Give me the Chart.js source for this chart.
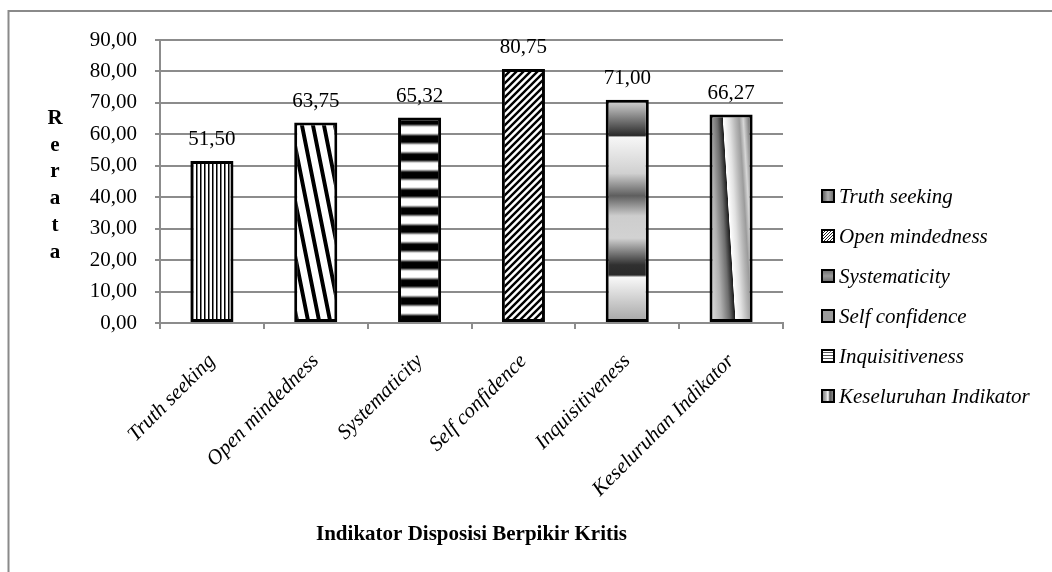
<!DOCTYPE html>
<html><head><meta charset="utf-8">
<script src="https://cdn.jsdelivr.net/npm/chart.js@4.4.1/dist/chart.umd.min.js"></script>
<style>html,body{margin:0;padding:0;background:#fff;} canvas{display:block;}</style>
</head><body>
<canvas id="c" width="1052" height="572"></canvas>
<script>
const categories = ['Truth seeking','Open mindedness','Systematicity','Self confidence','Inquisitiveness','Keseluruhan Indikator'];
const rerata = [51.50, 63.75, 65.32, 80.75, 71.00, 66.27];
const yTicks = [0,10,20,30,40,50,60,70,80,90];
const legendLabels = ['Truth seeking','Open mindedness','Systematicity','Self confidence','Inquisitiveness','Keseluruhan Indikator'];
const xTitle = 'Indikator Disposisi Berpikir Kritis';
const yTitle = 'Rerata';

const SERIF = '"Liberation Serif", "Times New Roman", serif';
const GRID = '#8c8c8c';
const FS = 21;
const fmt = v => Number(v).toFixed(2).replace('.', ',');

const cv = document.getElementById('c');
const ctx0 = cv.getContext('2d');
function mk(w,h,draw){const c=document.createElement('canvas');c.width=w;c.height=h;const g=c.getContext('2d');draw(g,w,h);return c;}

// vertical thin stripes
const pVert = ctx0.createPattern(mk(4,4,g=>{g.fillStyle='#fff';g.fillRect(0,0,4,4);g.fillStyle='#000';g.fillRect(0,0,1,4);g.fillStyle='#7a7a7a';g.fillRect(1,0,1,4);}),'repeat');
// steep "\" stripes
const pSteep = ctx0.createPattern(mk(11,55,g=>{g.fillStyle='#fff';g.fillRect(0,0,11,55);g.fillStyle='#000';for(let y=0;y<55;y++){const s=y*11/55;g.fillRect(s,y,4,1);g.fillRect(s-11,y,4,1);}}),'repeat');
// horizontal bands
const bandRows = ['#000','#000','#000','#000','#000','#333','#888','#ddd','#fff','#fff','#fff','#fff','#fff','#fff','#ddd','#888','#333','#000'];
const bandTile = mk(1,bandRows.length,g=>{bandRows.forEach((c,i)=>{g.fillStyle=c;g.fillRect(0,i,1,1);});});
// dense "/" hatch
const pHatch = ctx0.createPattern(mk(7,7,g=>{g.fillStyle='#fff';g.fillRect(0,0,7,7);g.strokeStyle='#000';g.lineWidth=2.4;g.beginPath();g.moveTo(0,7);g.lineTo(7,0);g.moveTo(-1,1);g.lineTo(1,-1);g.moveTo(6,8);g.lineTo(8,6);g.stroke();}),'repeat');
const pHatchSmall = ctx0.createPattern(mk(3,3,g=>{g.fillStyle='#fff';g.fillRect(0,0,3,3);g.fillStyle='#222';g.fillRect(0,2,1,1);g.fillRect(1,1,1,1);g.fillRect(2,0,1,1);}),'repeat');

function barGeom(chart, i){
  const xs = chart.scales.x, ys = chart.scales.y;
  const cx = xs.getPixelForValue(i);
  const w = (xs.width / categories.length) * 0.415;
  return {left: cx - w/2, w, top: ys.getPixelForValue(rerata[i]), base: ys.getPixelForValue(0)};
}

function fillFor(ctx){
  const chart = ctx.chart, i = ctx.dataIndex;
  if (!chart.chartArea || !chart.scales.x) return '#ccc';
  const g = barGeom(chart, i);
  const c = chart.ctx;
  if (i === 0) return pVert;
  if (i === 1) return pSteep;
  if (i === 2) {
    const p = c.createPattern(bandTile,'repeat');
    p.setTransform(new DOMMatrix().translate(0, g.top + 1.5));
    return p;
  }
  if (i === 3) return pHatch;
  if (i === 4) {
    const gr = c.createLinearGradient(0, g.top, 0, g.base);
    const st = [[0,'#dadada'],[0.16,'#2a2a2a'],[0.168,'#f6f6f6'],[0.33,'#d0d0d0'],[0.43,'#5e5e5e'],[0.52,'#cdcdcd'],[0.62,'#d2d2d2'],[0.74,'#303030'],[0.785,'#2a2a2a'],[0.795,'#f8f8f8'],[1,'#a4a4a4']];
    st.forEach(s=>gr.addColorStop(s[0],s[1]));
    return gr;
  }
  // slanted gradient
  const h = g.base - g.top;
  const T = {x: g.left + 0.31*g.w, y: g.top};
  const vx = 0.30*g.w, vy = h, L = Math.hypot(vx, vy);
  const nx = vy/L, ny = -vx/L;
  const a = -26, b = 29;
  const gr = c.createLinearGradient(T.x + a*nx, T.y + a*ny, T.x + b*nx, T.y + b*ny);
  const U = [[-26,'#e6e6e6'],[-14,'#b0b0b0'],[-6,'#6e6e6e'],[-0.6,'#1e1e1e'],[0,'#ffffff'],[6,'#e2e2e2'],[12,'#b6b6b6'],[16,'#9c9c9c'],[20,'#d6d6d6'],[25,'#888888'],[29,'#3a3a3a']];
  U.forEach(s=>gr.addColorStop((s[0]-a)/(b-a), s[1]));
  return gr;
}

function legendFill(c, i, x, y, w, h){
  if (i === 0){const g=c.createLinearGradient(x,0,x+w,0);g.addColorStop(0,'#555');g.addColorStop(0.5,'#b0b0b0');g.addColorStop(1,'#666');return g;}
  if (i === 1) return pHatchSmall;
  if (i === 2){const g=c.createLinearGradient(0,y,0,y+h);g.addColorStop(0,'#6a6a6a');g.addColorStop(0.5,'#9a9a9a');g.addColorStop(1,'#6a6a6a');return g;}
  if (i === 3) return '#9c9c9c';
  if (i === 4){const p=c.createPattern(mk(1,3,g=>{g.fillStyle='#fff';g.fillRect(0,0,1,2);g.fillStyle='#555';g.fillRect(0,2,1,1);}),'repeat');p.setTransform(new DOMMatrix().translate(0,y));return p;}
  const g=c.createLinearGradient(x,0,x+w,0);g.addColorStop(0,'#777');g.addColorStop(0.35,'#bbb');g.addColorStop(0.5,'#fff');g.addColorStop(0.65,'#555');g.addColorStop(1,'#999');return g;
}

const decor = {
  id:'decor',
  beforeDraw(chart){
    const c = chart.ctx;
    c.save();
    c.fillStyle='#fff'; c.fillRect(0,0,chart.width,chart.height);
    c.strokeStyle='#8a8a8a'; c.lineWidth=2;
    c.strokeRect(8.5, 11, chart.width + 20, chart.height + 20);
    c.restore();
  },
  afterDatasetsDraw(chart){
    const c = chart.ctx;
    const meta = chart.getDatasetMeta(0);
    c.save();
    c.fillStyle='#000'; c.font = FS+'px '+SERIF; c.textAlign='center'; c.textBaseline='alphabetic';
    meta.data.forEach((el,i)=>{ c.fillText(fmt(rerata[i]), el.x, el.y - 16); });
    c.restore();
  },
  afterDraw(chart){
    const c = chart.ctx, ca = chart.chartArea;
    c.save();
    // y title, stacked letters
    c.fillStyle='#000'; c.font = 'bold '+FS+'px '+SERIF; c.textAlign='center'; c.textBaseline='alphabetic';
    const letters = yTitle.split('');
    letters.forEach((ch,k)=>{ c.fillText(ch, 55, ca.top + 84 + k*26.7); });
    // legend
    const lx = ca.right + 39, ly0 = ca.top + 150;
    c.font = 'italic '+FS+'px '+SERIF; c.textAlign='left';
    legendLabels.forEach((t,i)=>{
      const by = ly0 + i*40;
      const x = lx, y = by, w = 12, h = 12;
      c.fillStyle = legendFill(c, i, x, y, w, h);
      c.fillRect(x, y, w, h);
      c.strokeStyle='#000'; c.lineWidth=2; c.strokeRect(x, y, w, h);
      c.fillStyle='#000';
      c.fillText(t, x + 17, y + 13);
    });
    c.restore();
  }
};

new Chart(ctx0, {
  type:'bar',
  data:{labels:categories, datasets:[{data:rerata, backgroundColor: fillFor, borderColor:'#000', borderWidth:3, borderSkipped:false, categoryPercentage:1, barPercentage:0.415}]},
  options:{
    responsive:false, animation:false, devicePixelRatio:1,
    layout:{padding:{top:40,left:0,right:269,bottom:0}},
    plugins:{legend:{display:false}, tooltip:{enabled:false}},
    scales:{
      x:{
        grid:{display:true, drawOnChartArea:false, drawTicks:true, tickLength:6, color:GRID, lineWidth:2, offset:true},
        border:{display:true, color:GRID, width:2},
        ticks:{autoSkip:false, maxRotation:45, minRotation:45, padding:20, color:'#000', font:{family:SERIF, size:FS, style:'italic'}},
        title:{display:true, text:xTitle, color:'#000', font:{family:SERIF, size:FS, weight:'bold'}, padding:{top:0, bottom:25}},
        afterFit: s => { s.height = 249; }
      },
      y:{
        min:0, max:90,
        afterBuildTicks: s => { s.ticks = yTicks.map(v => ({value:v})); },
        grid:{color:GRID, lineWidth:2, tickLength:5},
        border:{display:true, color:GRID, width:2},
        ticks:{padding:18, color:'#000', font:{family:SERIF, size:FS}, callback: v => fmt(v)},
        afterFit: s => { s.width = 160; }
      }
    }
  },
  plugins:[decor]
});
</script>
</body></html>
